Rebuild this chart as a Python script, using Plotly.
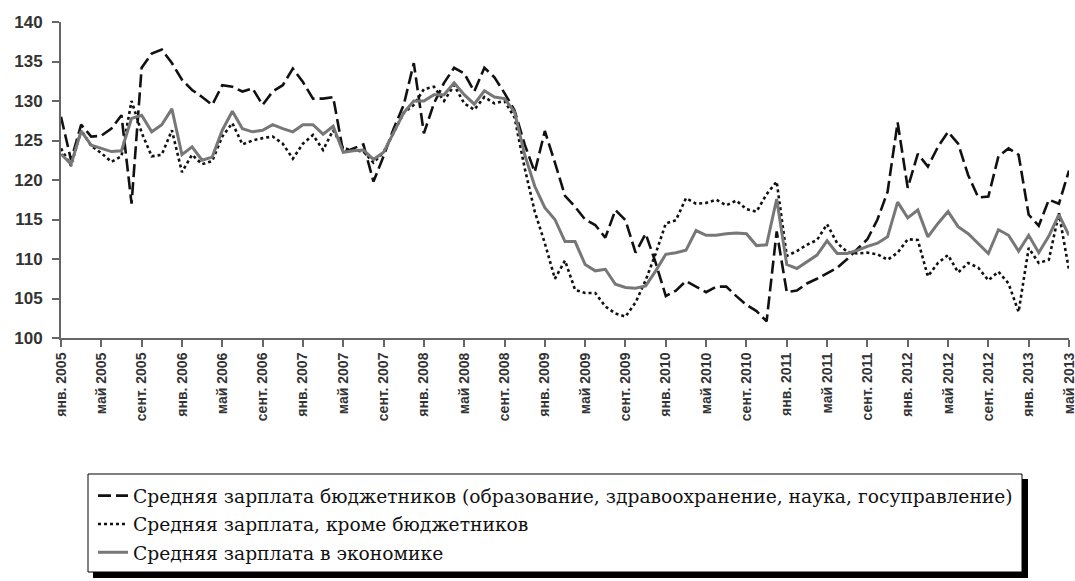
import plotly.graph_objects as go

months = list(range(101))
tick_pos = list(range(0, 101, 4))
tick_labels = [
    "янв. 2005", "май 2005", "сент. 2005", "янв. 2006", "май 2006", "сент. 2006",
    "янв. 2007", "май 2007", "сент. 2007", "янв. 2008", "май 2008", "сент. 2008",
    "янв. 2009", "май 2009", "сент. 2009", "янв. 2010", "май 2010", "сент. 2010",
    "янв. 2011", "май 2011", "сент. 2011", "янв. 2012", "май 2012", "сент. 2012",
    "янв. 2013", "май 2013",
]

budget = [
    128, 122.5, 127, 125.5, 125.6, 126.5, 128.2, 117, 134.2, 136,
    136.5, 134.8, 132.7, 131.4, 130.5, 129.5, 132, 131.8, 131.2, 131.6,
    129.5, 131.2, 132, 134.1, 132.4, 130.3, 130.3, 130.5, 123.5, 124,
    124.5, 119.8, 123, 126.5, 129.5, 134.8, 125.9, 129.7, 132.3, 134.2,
    133.5, 131.2, 134.2, 133, 131, 128.8, 124.5, 121, 126.2, 122.2,
    118, 116.6, 115, 114.3, 112.7, 116.2, 114.9, 110.8, 113.2, 109.5,
    105.3, 106, 107.2, 106.5, 105.8, 106.5, 106.5, 105.3, 104.2, 103.4,
    102.1, 113.5, 105.8, 106, 106.9, 107.5, 108.2, 108.9, 110, 111.3,
    112.5, 115, 118.5, 127.3, 119, 123.3, 121.7, 124.2, 126.1, 124.6,
    120.6, 117.8, 117.9, 123, 124, 123.2, 115.6, 114.2, 117.5, 117,
    121.2,
]

non_budget = [
    124, 121.8, 126.3, 124.3, 123.4, 122.3, 123, 130, 126, 123,
    123.2, 126.3, 121, 123.2, 122, 122.4, 125.5, 127.2, 124.5, 125,
    125.3, 125.5, 124.6, 122.7, 124.6, 125.7, 123.8, 126.3, 124, 123.8,
    123.6, 122.2, 123.5, 126, 128.5, 129.5, 131.5, 131.8, 130, 132,
    129.7, 128.9, 130.5, 129.7, 130, 127.9, 121.5, 116, 112, 107.5,
    109.8, 106.1, 105.7, 105.7, 104, 103.1, 102.7, 104.5, 107.3, 110.7,
    114.5, 114.9, 117.7, 117, 117.1, 117.5, 116.8, 117.4, 116.3, 116,
    118.2, 119.8, 110.4, 111, 111.8, 112.4, 114.4, 112, 110.9, 110.7,
    110.8, 110.6, 109.9, 110.8, 112.5, 112.4, 107.8, 109.5, 110.5, 108.3,
    109.5, 108.9, 107.3, 108.4, 106.9, 103.3, 111.4, 109.5, 109.9, 115.8,
    108.6,
]

economy = [
    123.3, 122, 126.2, 124.4, 124, 123.6, 123.7, 127.8, 128.2, 126.1,
    127, 129, 123.2, 124.2, 122.5, 122.9, 126.3, 128.7, 126.5, 126.1,
    126.3, 127, 126.5, 126.1, 127, 127, 125.8, 126.8, 123.5, 123.7,
    123.8, 122.6, 123.5, 126, 128.5, 130, 130, 130.8, 130.8, 132.3,
    130.8, 129.6, 131.3, 130.5, 130.3, 128.6, 123.2, 119.2, 116.5, 115,
    112.2, 112.2, 109.3, 108.5, 108.7, 106.8, 106.4, 106.3, 106.6, 108.5,
    110.6, 110.8, 111.1, 113.6, 113, 113, 113.2, 113.3, 113.2, 111.7,
    111.8, 117.6, 109.3, 108.8, 109.7, 110.5, 112.3, 110.7, 110.7, 111.1,
    111.6, 112, 112.8, 117.2, 115.2, 116.2, 112.8, 114.5, 116, 114.1,
    113.2, 111.9, 110.7, 113.7, 113, 111, 113, 110.8, 112.9, 115.6,
    113,
]

names = [
    "Средняя зарплата бюджетников (образование, здравоохранение, наука, госуправление)",
    "Средняя зарплата, кроме бюджетников",
    "Средняя зарплата в экономике",
]

# horizontal screen-to-figure compensation
SX = 1083 / 1075

fig = go.Figure()
fig.add_trace(go.Scatter(x=months, y=budget, mode="lines", name=names[0], legendgroup="a",
                         line=dict(color="#111111", width=2.6, dash="13px,5px")))
fig.add_trace(go.Scatter(x=months, y=non_budget, mode="lines", name=names[1], legendgroup="b",
                         line=dict(color="#111111", width=2.6, dash="dot")))
fig.add_trace(go.Scatter(x=months, y=economy, mode="lines", name=names[2], legendgroup="c",
                         line=dict(color="#777777", width=3)))

VW, VH = 1075, 581
W, H = round(VW * SX), VH
# plot area, in target screen pixels
SL, SR, ST, SB = 61, 1069, 22, 338
L, R, T, B = round(SL * SX), round(SR * SX), ST, SB


def px(X):
    return (X - SL) / (SR - SL)


def py(Y):
    return (SB - Y) / (SB - ST)


shapes = [
    dict(type="rect", xref="paper", yref="paper", x0=px(93), x1=px(1028), y0=py(578), y1=py(479),
         fillcolor="black", line=dict(width=0), layer="above"),
    dict(type="rect", xref="paper", yref="paper", x0=px(88), x1=px(1022), y0=py(572), y1=py(474),
         fillcolor="white", line=dict(color="black", width=1), layer="above"),
]

fig.update_layout(
    width=W, height=H, autosize=False,
    margin=dict(l=L, r=W - R, t=T, b=H - B),
    paper_bgcolor="white", plot_bgcolor="white",
    shapes=shapes,
    showlegend=True,
    legend=dict(x=px(93), y=py(477), xanchor="left", yanchor="top",
                bgcolor="rgba(0,0,0,0)", borderwidth=0,
                font=dict(family="DejaVu Serif", size=18.7, color="#111111"),
                tracegroupgap=1),
    xaxis=dict(range=[0, 100], tickmode="array", tickvals=tick_pos, ticktext=tick_labels,
               tickangle=-90, showgrid=False, zeroline=False, ticklabeloverflow="allow",
               showline=True, linecolor="#666666", linewidth=2,
               ticks="outside", ticklen=7, tickcolor="#666666", tickwidth=1.5,
               tickfont=dict(family="Liberation Sans", size=14, color="#333333", weight="bold")),
    yaxis=dict(range=[100, 140], tickmode="array", tickvals=list(range(100, 141, 5)),
               showgrid=False, zeroline=False,
               showline=True, linecolor="#666666", linewidth=2,
               ticks="outside", ticklen=7, tickcolor="#666666", tickwidth=1.5,
               ticklabelstandoff=6,
               tickfont=dict(family="Liberation Sans", size=17, color="#333333", weight="bold")),
)

fig.write_html(
    "out.html",
    config={"displayModeBar": False},
    post_script="document.body.style.margin='0';document.body.style.overflow='hidden';",
)
